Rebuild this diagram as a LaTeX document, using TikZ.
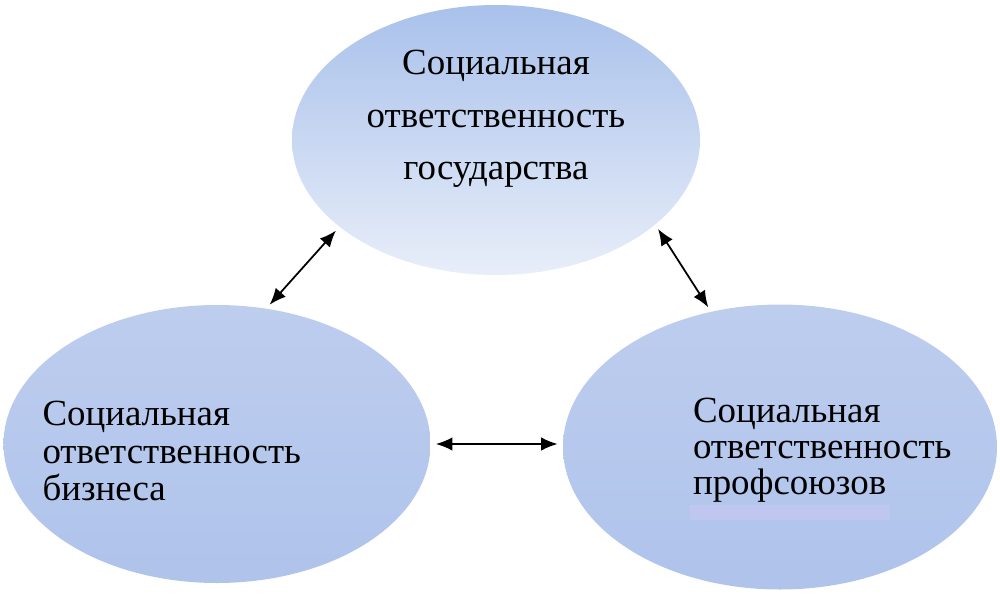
\documentclass[tikz,border=0pt]{standalone}
\usepackage{fontspec}
\setmainfont{Liberation Serif}
\usetikzlibrary{shapes.geometric,arrows.meta,positioning}

\definecolor{blobtop}{HTML}{A9C1EB}
\definecolor{blobpale}{HTML}{E8EEF9}
\definecolor{bloblight}{HTML}{BDCDEE}
\definecolor{blobmid}{HTML}{AFC3EB}
\definecolor{hilite}{HTML}{BFC6F0}

\tikzstyle{blob} = [ellipse, inner sep=0mm]
\tikzstyle{caption} = [inner sep=0mm]
\tikzstyle{link} = [{Latex[length=3.3mm,width=2.7mm]}-{Latex[length=3.3mm,width=2.7mm]}, line width=1pt, shorten <=1mm, shorten >=1mm]

\begin{document}
\begin{tikzpicture}
		%\draw[help lines] (0,-12) grid (20,0);
		\useasboundingbox (0,0) rectangle (20,-11.98);
		\node[blob, minimum width=8.16cm, minimum height=5.4cm, top color=blobtop, bottom color=blobpale] (gov) at (9.92,-2.8) {};
		\node[blob, minimum width=8.54cm, minimum height=5.56cm, top color=bloblight, bottom color=blobmid] (biz) at (4.34,-8.88) {};
		\node[blob, minimum width=8.68cm, minimum height=5.7cm, top color=bloblight, bottom color=blobmid] (union) at (15.6,-8.94) {};
		\node[caption, align=center, font=\fontsize{21}{30}\selectfont, below=0.9cm of gov.north] (govtxt) {
			Социальная\\
			ответственность\\
			государства
		};
		\node[caption, align=left, font=\fontsize{21}{21.5}\selectfont, right=0.78cm of biz.west, yshift=-0.14cm] (biztxt) {
			Социальная\\
			ответственность\\
			бизнеса
		};
		\fill[hilite] (13.8,-10.1) rectangle (17.8,-10.4);
		\node[caption, align=left, font=\fontsize{21}{20.5}\selectfont, right=2.6cm of union.west, yshift=-0.06cm] (uniontxt) {
			Социальная\\
			ответственность\\
			профсоюзов
		};
		\foreach \a/\b in {biz.70/gov.209, gov.332/union.117, biz.east/biz.east -| union.west}
		\draw[link] (\a) -- (\b);
	\end{tikzpicture}
\end{document}
